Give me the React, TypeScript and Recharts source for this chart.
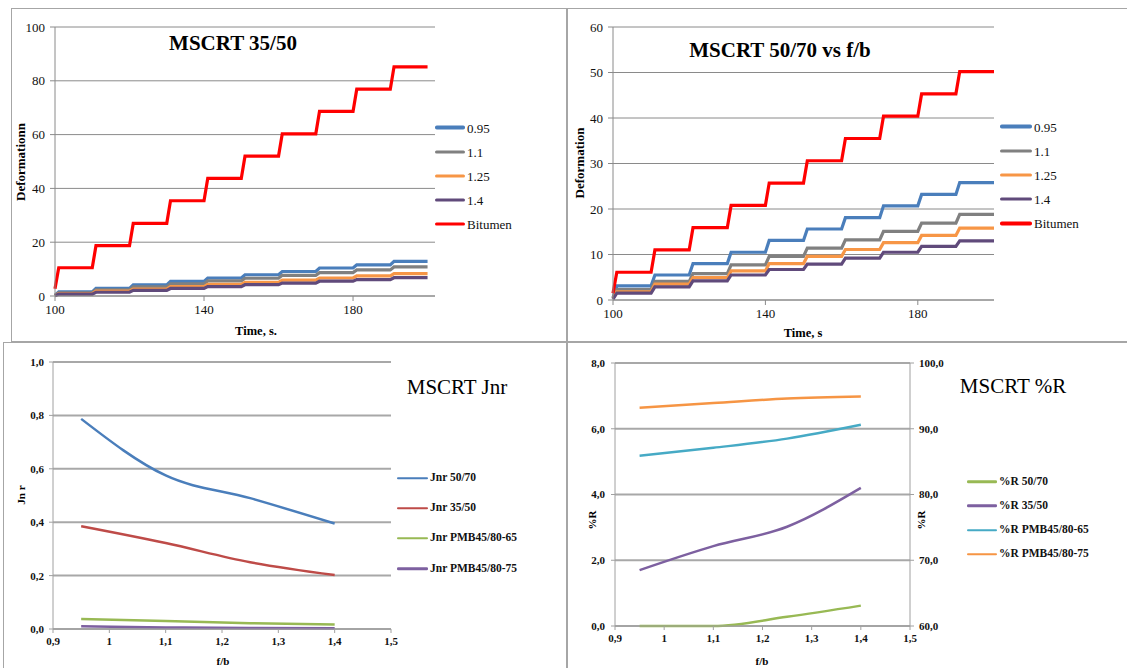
import React from "react";
import { LineChart, Line, XAxis, YAxis, CartesianGrid } from "recharts";

const SERIF = "'Liberation Serif', Tinos, 'Times New Roman', 'DejaVu Serif', 'Noto Serif', serif";

// ---- top charts: MSCRT creep / recovery steps (time in s) ----
const stepTimes = [100, 101, 110, 111, 120, 121, 130, 131, 140, 141, 150, 151, 160, 161, 170, 171, 180, 181, 190, 191, 200];
const fbNames = ["0.95", "1.1", "1.25", "1.4", "Bitumen"];
const fbColors = ["#4a7ebb", "#808080", "#f79646", "#604a7b", "#ff0000"];

// MSCRT 35/50 - start value, then level reached after each 10 s cycle
const start3550 = [0.3, 0.2, 0.1, 0.1, 2.7];
const lvl3550_095 = [1.5, 2.8, 4.1, 5.4, 6.7, 7.9, 9.1, 10.4, 11.6, 12.9];
const lvl3550_110 = [1.2, 2.3, 3.4, 4.5, 5.6, 6.6, 7.7, 8.7, 9.7, 10.8];
const lvl3550_125 = [0.9, 1.8, 2.6, 3.5, 4.3, 5.1, 5.9, 6.7, 7.5, 8.3];
const lvl3550_140 = [0.7, 1.4, 2.1, 2.8, 3.5, 4.2, 4.8, 5.5, 6.1, 6.8];
const lvl3550_bit = [10.5, 18.7, 27.0, 35.4, 43.7, 52.0, 60.3, 68.6, 76.9, 85.2];

// MSCRT 50/70
const start5070 = [0.5, 0.4, 0.3, 0.2, 1.5];
const lvl5070_095 = [3.1, 5.5, 8.0, 10.5, 13.1, 15.6, 18.1, 20.7, 23.2, 25.8];
const lvl5070_110 = [2.3, 4.1, 5.8, 7.7, 9.6, 11.4, 13.2, 15.1, 16.9, 18.8];
const lvl5070_125 = [1.8, 3.5, 4.9, 6.4, 8.0, 9.6, 11.1, 12.6, 14.2, 15.8];
const lvl5070_140 = [1.5, 2.9, 4.2, 5.5, 6.7, 7.9, 9.2, 10.5, 11.8, 13.0];
const lvl5070_bit = [6.1, 11.0, 15.9, 20.8, 25.7, 30.6, 35.5, 40.4, 45.3, 50.2];

// ---- bottom charts vs f/b ----
const fbPoints = [0.95, 1.1, 1.25, 1.4];
const fbTicks = [0.9, 1, 1.1, 1.2, 1.3, 1.4, 1.5];

const jnrNames = ["Jnr 50/70", "Jnr 35/50", "Jnr PMB45/80-65", "Jnr PMB45/80-75"];
const jnrColors = ["#4a7ebb", "#be4b48", "#98b954", "#7d60a0"];
const jnr5070 = [0.787, 0.575, 0.49, 0.395];
const jnr3550 = [0.385, 0.322, 0.25, 0.202];
const jnrPmb65 = [0.037, 0.03, 0.022, 0.017];
const jnrPmb75 = [0.01, 0.006, 0.004, 0.003];

const rNames = ["%R 50/70", "%R 35/50", "%R PMB45/80-65", "%R PMB45/80-75"];
const rColors = ["#98b954", "#7d60a0", "#46aac5", "#f69544"];
const r5070 = [0.0, 0.0, 0.28, 0.62];
const r3550 = [1.7, 2.43, 3.02, 4.2];
const rPmb65 = [85.9, 87.1, 88.5, 90.6];
const rPmb75 = [93.2, 93.9, 94.6, 94.9];

const buildSteps = (starts: number[], levels: number[][]) =>
  stepTimes.map((t, i) => {
    const row: Record<string, number> = { t };
    levels.forEach((lv, s) => {
      row["s" + s] = i === 0 ? starts[s] : lv[Math.floor((i - 1) / 2)];
    });
    return row;
  });

const data3550 = buildSteps(start3550, [lvl3550_095, lvl3550_110, lvl3550_125, lvl3550_140, lvl3550_bit]);
const data5070 = buildSteps(start5070, [lvl5070_095, lvl5070_110, lvl5070_125, lvl5070_140, lvl5070_bit]);

const jnrData = fbPoints.map((fb, i) => ({ fb, a: jnr5070[i], b: jnr3550[i], c: jnrPmb65[i], d: jnrPmb75[i] }));
const rData = fbPoints.map((fb, i) => ({ fb, a: r5070[i], b: r3550[i], c: rPmb65[i], d: rPmb75[i] }));

const comma = (v: number) => String(v).replace(".", ",");
const comma1 = (v: number) => v.toFixed(1).replace(".", ",");

const GRID = "#8a8a8a";

function CenterText({ x, y, size, bold, rotate, children }: any) {
  return (
    <div
      style={{
        position: "absolute",
        left: x,
        top: y,
        fontFamily: SERIF,
        fontSize: size,
        fontWeight: bold ? 700 : 400,
        lineHeight: 1,
        whiteSpace: "nowrap",
        color: "#000",
        transform: `translate(-50%, -50%)${rotate ? ` rotate(${rotate}deg)` : ""}`,
      }}
    >
      {children}
    </div>
  );
}

function SideLegend({ names, colors, x, y, gap, lineW, strokeW, size, bold }: any) {
  return (
    <>
      {names.map((n: string, i: number) => (
        <div
          key={n}
          style={{
            position: "absolute",
            left: x,
            top: y + i * gap,
            transform: "translateY(-50%)",
            display: "flex",
            alignItems: "center",
            whiteSpace: "nowrap",
          }}
        >
          <span style={{ display: "inline-block", width: lineW, height: strokeW, background: colors[i], borderRadius: strokeW / 2 }} />
          <span style={{ marginLeft: 2, fontFamily: SERIF, fontSize: size, fontWeight: bold ? 700 : 400, lineHeight: 1, color: "#111" }}>{n}</span>
        </div>
      ))}
    </>
  );
}

function Box({ left, top, width, height }: any) {
  return <div style={{ position: "absolute", left, top, width, height, border: "1px solid #a6a6a6", boxSizing: "border-box" }} />;
}

function StepChart({ data, width, height, margin, yWidth, xDomain, yDomain, yTicks }: any) {
  const tick = { fontSize: 13, fill: "#111", fontFamily: SERIF };
  return (
    <LineChart width={width} height={height} data={data} margin={margin}>
      <CartesianGrid vertical={false} stroke={GRID} />
      <XAxis
        dataKey="t"
        type="number"
        domain={xDomain}
        ticks={[100, 140, 180]}
        interval={0}
        height={30}
        tick={tick}
        tickSize={5}
        tickMargin={4}
        stroke={GRID}
      />
      <YAxis
        type="number"
        domain={yDomain}
        ticks={yTicks}
        interval={0}
        width={yWidth}
        tick={tick}
        tickSize={5}
        tickMargin={5}
        stroke={GRID}
      />
      {fbNames.map((n, s) => (
        <Line
          key={n}
          name={n}
          dataKey={"s" + s}
          type="linear"
          stroke={fbColors[s]}
          strokeWidth={3.2}
          dot={false}
          isAnimationActive={false}
        />
      ))}
    </LineChart>
  );
}

export default function App() {
  const smallTick = { fontSize: 11, fill: "#111", fontFamily: SERIF, fontWeight: 700 };
  return (
    <div style={{ position: "absolute", left: 0, top: 0, width: 1127, height: 668, overflow: "hidden", background: "#fff", fontFamily: SERIF }}>
      <Box left={11} top={8} width={556} height={334} />
      <Box left={567} top={8} width={562} height={334} />
      <Box left={3} top={342} width={564} height={330} />
      <Box left={567} top={342} width={562} height={330} />

      {/* MSCRT 35/50 */}
      <div style={{ position: "absolute", left: 11, top: 8 }}>
        <StepChart
          data={data3550}
          width={555}
          height={334}
          margin={{ top: 19, right: 131, bottom: 16, left: 0 }}
          yWidth={44}
          xDomain={[100, 202]}
          yDomain={[0, 100]}
          yTicks={[0, 20, 40, 60, 80, 100]}
        />
      </div>
      <CenterText x={233} y={43} size={21} bold>MSCRT 35/50</CenterText>
      <CenterText x={20} y={162} size={13} bold rotate={-90}>Deformationn</CenterText>
      <CenterText x={256} y={331} size={12.5} bold>Time, s.</CenterText>
      <SideLegend names={fbNames} colors={fbColors} x={435} y={127.7} gap={24.1} lineW={30} strokeW={3.5} size={13} />

      {/* MSCRT 50/70 */}
      <div style={{ position: "absolute", left: 567, top: 8 }}>
        <StepChart
          data={data5070}
          width={560}
          height={334}
          margin={{ top: 19, right: 133, bottom: 12, left: 0 }}
          yWidth={46}
          xDomain={[100, 200]}
          yDomain={[0, 60]}
          yTicks={[0, 10, 20, 30, 40, 50, 60]}
        />
      </div>
      <CenterText x={780} y={50} size={21} bold>MSCRT 50/70 vs f/b</CenterText>
      <CenterText x={579} y={163} size={13} bold rotate={-90}>Deformation</CenterText>
      <CenterText x={803} y={333} size={12.5} bold>Time, s</CenterText>
      <SideLegend names={fbNames} colors={fbColors} x={1000} y={126.7} gap={24.15} lineW={32} strokeW={3.5} size={13} />

      {/* MSCRT Jnr */}
      <div style={{ position: "absolute", left: 3, top: 343 }}>
        <LineChart width={563} height={325} data={jnrData} margin={{ top: 19, right: 175, bottom: 14, left: 0 }}>
          <CartesianGrid vertical={false} stroke="#a8a8a8" strokeWidth={2} />
          <XAxis
            dataKey="fb"
            type="number"
            domain={[0.9, 1.5]}
            ticks={fbTicks}
            interval={0}
            height={25}
            tick={smallTick}
            tickFormatter={comma}
            tickSize={4}
            tickMargin={4}
            stroke="#a0a0a0"
          />
          <YAxis
            type="number"
            domain={[0, 1]}
            ticks={[0, 0.2, 0.4, 0.6, 0.8, 1]}
            interval={0}
            width={50}
            tick={smallTick}
            tickFormatter={comma1}
            tickSize={4}
            tickMargin={5}
            stroke="#a0a0a0"
          />
          {["a", "b", "c", "d"].map((k, i) => (
            <Line key={k} name={jnrNames[i]} dataKey={k} type="monotone" stroke={jnrColors[i]} strokeWidth={2.5} dot={false} isAnimationActive={false} />
          ))}
        </LineChart>
      </div>
      <CenterText x={457} y={387} size={21}>MSCRT Jnr</CenterText>
      <CenterText x={21} y={495} size={11} bold rotate={-90}>Jn r</CenterText>
      <CenterText x={223} y={661} size={11} bold>f/b</CenterText>
      <SideLegend names={jnrNames} colors={jnrColors} x={397} y={478} gap={30.2} lineW={31} strokeW={2.5} size={11.5} bold />

      {/* MSCRT %R */}
      <div style={{ position: "absolute", left: 567, top: 343 }}>
        <LineChart width={560} height={325} data={rData} margin={{ top: 20, right: 167, bottom: 17, left: 0 }}>
          <CartesianGrid vertical={false} yAxisId="left" stroke="#a8a8a8" strokeWidth={2} />
          <XAxis
            dataKey="fb"
            type="number"
            domain={[0.9, 1.5]}
            ticks={fbTicks}
            interval={0}
            height={25}
            tick={smallTick}
            tickFormatter={comma}
            tickSize={4}
            tickMargin={4}
            stroke="#a0a0a0"
          />
          <YAxis
            yAxisId="left"
            type="number"
            domain={[0, 8]}
            ticks={[0, 2, 4, 6, 8]}
            interval={0}
            width={48}
            tick={smallTick}
            tickFormatter={comma1}
            tickSize={4}
            tickMargin={6}
            stroke="#a0a0a0"
          />
          <YAxis
            yAxisId="right"
            orientation="right"
            type="number"
            domain={[60, 100]}
            ticks={[60, 70, 80, 90, 100]}
            interval={0}
            width={50}
            tick={smallTick}
            tickFormatter={comma1}
            tickSize={4}
            tickMargin={5}
            stroke="#a0a0a0"
          />
          {["a", "b", "c", "d"].map((k, i) => (
            <Line
              key={k}
              name={rNames[i]}
              yAxisId={i < 2 ? "left" : "right"}
              dataKey={k}
              type="monotone"
              stroke={rColors[i]}
              strokeWidth={2.5}
              dot={false}
              isAnimationActive={false}
            />
          ))}
        </LineChart>
      </div>
      <CenterText x={1013} y={386} size={21}>MSCRT %R</CenterText>
      <CenterText x={592} y={520} size={11} bold rotate={-90}>%R</CenterText>
      <CenterText x={921} y={520} size={11} bold rotate={-90}>%R</CenterText>
      <CenterText x={762} y={661} size={11} bold>f/b</CenterText>
      <SideLegend names={rNames} colors={rColors} x={967} y={481.7} gap={24.2} lineW={30} strokeW={2.5} size={11.5} bold />
    </div>
  );
}
